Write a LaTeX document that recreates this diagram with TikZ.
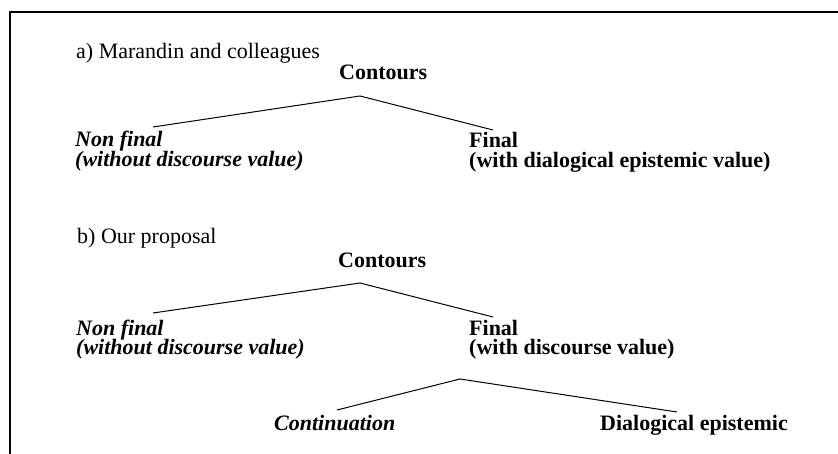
\documentclass[tikz,border=0pt]{standalone}
\usepackage{fontspec}
\setmainfont{Liberation Serif}
\newcommand{\twoline}[2]{\vtop{\baselineskip=20pt\hbox{#1}\hbox{#2}}}
\begin{document}
\begin{tikzpicture}[x=1pt,y=-1pt,
  lbl/.style={inner sep=0pt,anchor=base west,font=\fontsize{22}{20}\selectfont},
  bl/.style={lbl,font=\fontsize{22}{20}\selectfont\bfseries},
  bi/.style={lbl,font=\fontsize{22}{20}\selectfont\bfseries\itshape},
  branch/.style={line width=1pt},
  frame/.style={line width=2pt}]
\useasboundingbox (0,0) rectangle (838,454);
\draw[frame] (838,12) -- (10,12) -- (10,454);
% section a
\node[lbl] (ta) at (76,59) {a) Marandin and colleagues};
\node[bl] (ca) at (339,80) {Contours};
\coordinate (apa) at (360,96);
\coordinate (la) at (153,127);
\coordinate (ra) at (493,130);
\node[bi] (nfa) at (75,147) {\twoline{Non final}{(without discourse value)}};
\node[bl] (fa) at (469,148) {\twoline{Final}{(with dialogical epistemic value)}};
\draw[branch] (la) -- (apa) -- (ra);
% section b
\node[lbl] (tb) at (77,244) {b) Our proposal};
\node[bl] (cb) at (338,268) {Contours};
\coordinate (apb) at (360,283);
\coordinate (lb) at (153,313);
\coordinate (rb) at (493,317);
\node[bi] (nfb) at (76,335) {\twoline{Non final}{(without discourse value)}};
\node[bl] (fb) at (469,335) {\twoline{Final}{(with discourse value)}};
\draw[branch] (lb) -- (apb) -- (rb);
\coordinate (apc) at (460,379);
\coordinate (lc) at (337,410);
\coordinate (rc) at (677,412);
\node[bi] (cont) at (274,430) {Continuation};
\node[bl] (dial) at (600,430) {Dialogical epistemic};
\draw[branch] (lc) -- (apc) -- (rc);
\end{tikzpicture}
\end{document}
